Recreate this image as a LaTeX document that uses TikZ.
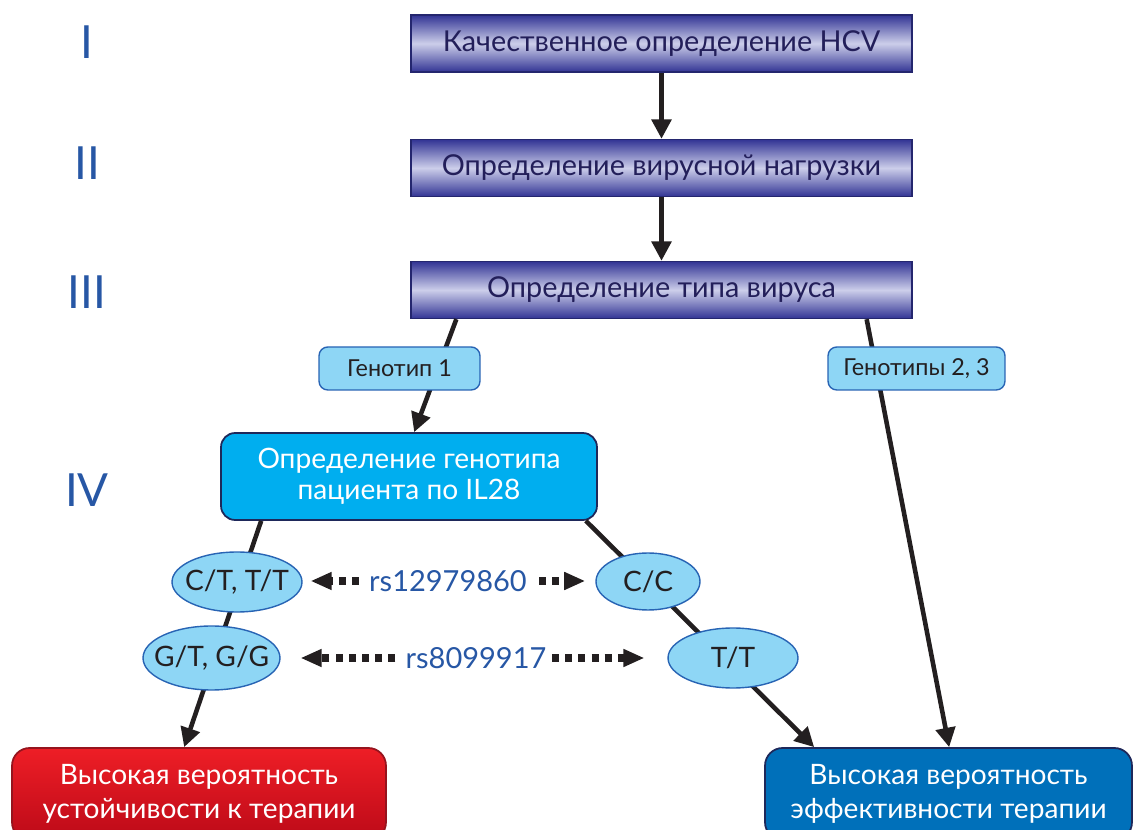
\documentclass[tikz,border=0pt]{standalone}
\usepackage{fontspec}
\setmainfont{Lato}
\usetikzlibrary{shapes.geometric, arrows.meta, calc}
\definecolor{numblue}{RGB}{39,87,165}
\definecolor{navy}{RGB}{50,52,148}
\definecolor{navyline}{RGB}{36,38,110}
\definecolor{pale}{RGB}{204,206,234}
\definecolor{navytext}{RGB}{35,31,90}
\definecolor{tagfill}{RGB}{142,214,245}
\definecolor{tagline}{RGB}{40,100,180}
\definecolor{cyanbox}{RGB}{0,174,239}
\definecolor{darkline}{RGB}{30,40,90}
\definecolor{redtop}{RGB}{238,30,38}
\definecolor{redbot}{RGB}{188,10,24}
\definecolor{redline}{RGB}{150,20,30}
\definecolor{bluebox}{RGB}{0,112,186}
\definecolor{ink}{RGB}{35,31,32}

\begin{document}
\begin{tikzpicture}[x=0.02cm, y=-0.02cm,
  every node/.style={inner sep=2pt},
  num/.style={font=\fontsize{26}{26}\selectfont, color=numblue},
  stage/.style={draw=navyline, line width=0.8pt, top color=navy, bottom color=navy,
                middle color=pale, minimum width=10.02cm, minimum height=1.14cm,
                font=\fontsize{16.4}{18}\selectfont, text=navytext},
  tag/.style={draw=tagline, line width=0.8pt, fill=tagfill, rounded corners=5pt,
              minimum height=0.86cm, font=\fontsize{13.3}{15}\selectfont, text=ink},
  pat/.style={draw=darkline, line width=1pt, fill=cyanbox, rounded corners=8pt,
              minimum width=7.52cm, minimum height=1.74cm, align=center,
              font=\fontsize{16}{17.5}\selectfont, text=white},
  result/.style={line width=1pt, rounded corners=10pt, minimum height=1.84cm,
                 align=center, font=\fontsize{16}{19.5}\selectfont, text=white},
  allele/.style={ellipse, draw=tagline, line width=0.8pt, fill=tagfill,
                 inner xsep=-8pt, inner ysep=0pt,
                 font=\fontsize{16}{18}\selectfont, text=ink},
  snp/.style={inner sep=0pt, font=\fontsize{16.5}{18}\selectfont, color=numblue},
  arr/.style={-{Triangle[length=11pt, width=11pt]}, ink, line width=2.6pt},
  dots/.style={-{Triangle[length=12pt, width=9.5pt]}, ink, line width=4pt,
               dash pattern=on 4pt off 3.5pt}]
\useasboundingbox (0,0) rectangle (1133,830);

\node[num] (n1) at (87,42) {I};
\node[num] (n2) at (87,163) {II};
\node[num] (n3) at (87,292) {III};
\node[num] (n4) at (87,490) {IV};

\node[stage] (qual) at (661.5,43.5) {Качественное определение HCV};
\node[stage] (load) at (661.5,168) {Определение вирусной нагрузки};
\node[stage] (type) at (661.5,290) {Определение типа вируса};
\node[pat] (il) at (409,476.5) {Определение генотипа\\пациента по IL28};
\node[result, draw=redline, top color=redtop, bottom color=redbot, minimum width=7.48cm]
  (res) at (199,794) {Высокая вероятность\\устойчивости к терапии};
\node[result, draw=darkline, fill=bluebox, minimum width=7.34cm]
  (eff) at (948.5,794) {Высокая вероятность\\эффективности терапии};

\draw[arr] (qual) -- (load);
\draw[arr] (load) -- (type);
\draw[arr] ($(type.south west)+(46,0)$) -- ($(il.north west)+(194,0)$);
\draw[arr] ($(type.south east)+(-46,0)$) -- ($(eff.north west)+(185,0)$);
\draw[arr] ($(il.south west)+(41,0)$) -- ($(res.north west)+(173,0)$);
\draw[arr] ($(il.south east)+(-12,0)$) -- ($(eff.north west)+(50,0)$);

\node[tag, minimum width=3.22cm] (g1) at (399.5,368.5) {Генотип 1};
\node[tag, minimum width=3.54cm] (g23) at (916.5,368.5) {Генотипы 2, 3};

\node[allele, minimum width=2.6cm, minimum height=1.2cm] (ct) at (237,582) {C/T, T/T};
\node[allele, minimum width=2.74cm, minimum height=1.28cm] (gt) at (211.5,658) {G/T, G/G};
\node[allele, minimum width=2.08cm, minimum height=1.14cm] (cc) at (648,581.5) {C/C};
\node[allele, minimum width=2.6cm, minimum height=1.2cm] (tt) at (733,658) {T/T};

\node[snp] (rs1) at (448,581) {rs12979860};
\node[snp] (rs2) at (476,658) {rs8099917};

\draw[dots, shorten <=5.7pt, shorten >=4.5pt] (rs1.west) -- (rs1.west -| ct.east);
\draw[dots, shorten <=6.8pt, shorten >=5.7pt] (rs1.east) -- (rs1.east -| cc.west);
\draw[dots, shorten <=5.7pt, shorten >=11.3pt] (rs2.west) -- (rs2.west -| gt.east);
\draw[dots, shorten <=3pt, shorten >=13pt] (rs2.east) -- (rs2.east -| tt.west);
\end{tikzpicture}
\end{document}
